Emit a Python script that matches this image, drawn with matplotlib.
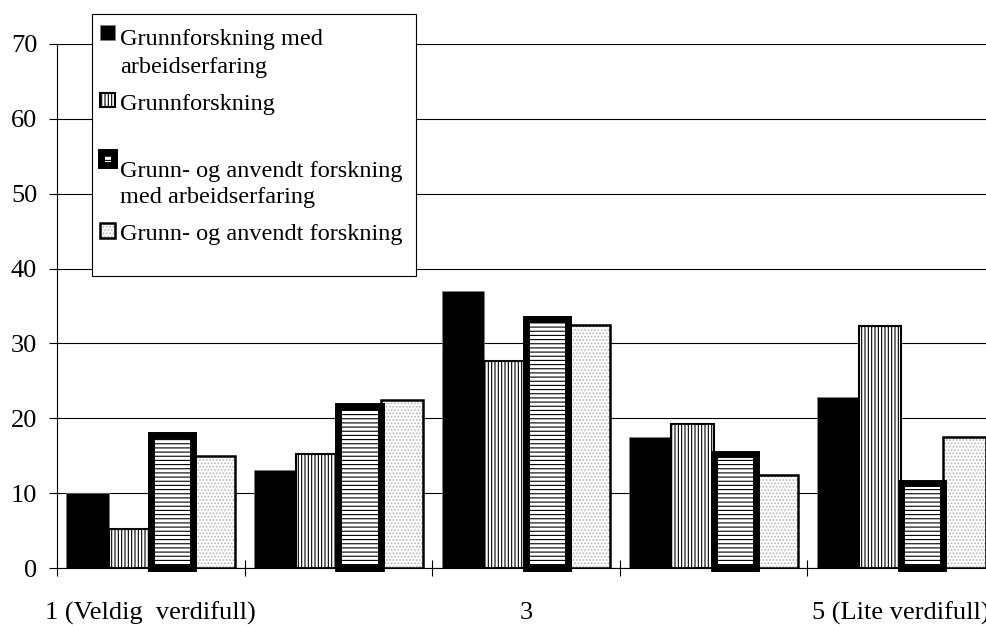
import matplotlib
matplotlib.use("Agg")
import matplotlib.pyplot as plt
import numpy as np
from matplotlib.patches import Rectangle

# answer scale 1 (very valuable) .. 5 (of little value), percent
categories = ["1 (Veldig  verdifull)", "", "3", "", "5 (Lite verdifull)"]
series_names = [
    "Grunnforskning med\narbeidserfaring",
    "Grunnforskning",
    "Grunn- og anvendt forskning\nmed arbeidserfaring",
    "Grunn- og anvendt forskning",
]
grunn_arb = [10.0, 13.1, 37.0, 17.5, 22.9]
grunn = [5.3, 15.2, 27.7, 19.2, 32.3]
anvendt_arb = [17.8, 21.6, 33.2, 15.3, 11.4]
anvendt = [15.0, 22.4, 32.4, 12.4, 17.5]
yticks = [0, 10, 20, 30, 40, 50, 60, 70]

# bar looks, shared with the hand-made legend keys
STYLES = [
    [dict(facecolor="black", edgecolor="#808080", linewidth=0.5)],
    [dict(facecolor="white", edgecolor="black", hatch="|||||", linewidth=1.5)],
    [dict(facecolor="white", edgecolor="black", hatch="----", linewidth=5)],
    [dict(facecolor="white", edgecolor="#b5b5b5", hatch=".....", linewidth=0),
     dict(fill=False, edgecolor="black", linewidth=1.8)],
]


def px(x, y):
    """pixel position (from top-left) -> figure fraction"""
    return x / 987, 1 - y / 626


def main():
    plt.rcParams["font.family"] = ["Liberation Serif", "DejaVu Serif"]
    plt.rcParams["hatch.linewidth"] = 0.8

    fig = plt.figure(figsize=(9.87, 6.26), dpi=100)
    ax = fig.add_axes([57 / 987, 1 - 568.3 / 626, (995 - 57) / 987, (568.3 - 43.7) / 626])

    x = np.arange(len(categories))
    w = 0.225
    values = [grunn_arb, grunn, anvendt_arb, anvendt]
    for i, (vals, layers) in enumerate(zip(values, STYLES)):
        for style in layers:
            bars = ax.bar(x + (i - 1.5) * w, vals, w, zorder=3 if i == 2 else 2, **style)
            if i == 2:
                for p in bars:
                    p.set_clip_on(False)

    ax.set_xlim(-0.5, len(categories) - 0.5)
    ax.set_ylim(0, 70)
    ax.set_yticks(yticks)
    ax.yaxis.grid(True, color="black", linewidth=0.8)
    ax.set_axisbelow(True)
    for s in ["top", "right"]:
        ax.spines[s].set_visible(False)
    ax.spines["left"].set_linewidth(0.8)
    ax.spines["bottom"].set_linewidth(0.8)
    ax.tick_params(axis="y", direction="out", length=5.8, width=0.8,
                   labelsize=19, pad=8.5)

    ax.set_xticks(x)
    ax.set_xticklabels(categories)
    ax.set_xticks(np.arange(len(categories) + 1) - 0.5, minor=True)
    ax.tick_params(axis="x", which="major", length=0, labelsize=19, pad=24)
    ax.tick_params(axis="x", which="minor", direction="inout", length=11.5,
                   width=0.8)

    # legend, laid out by hand like the original
    x0, y0 = px(92, 276)
    x1, y1 = px(416, 14)
    ax.add_artist(Rectangle((x0, y0), x1 - x0, y1 - y0, transform=fig.transFigure,
                            facecolor="white", edgecolor="black", linewidth=0.8,
                            clip_on=False, zorder=4))
    key_boxes = [(100, 25, 115, 40), (100, 93, 115, 107),
                 (101, 152, 114, 165), (100, 223, 115, 238)]
    baselines = [(45, 73), (110,), (177, 203), (240,)]
    for name, layers, box, lines in zip(series_names, STYLES, key_boxes, baselines):
        kx0, ky0 = px(box[0], box[3])
        kx1, ky1 = px(box[2], box[1])
        for style in layers:
            ax.add_artist(Rectangle((kx0, ky0), kx1 - kx0, ky1 - ky0,
                                    transform=fig.transFigure, clip_on=False,
                                    zorder=5, **style))
        for text, yb in zip(name.split("\n"), lines):
            fig.text(*px(120, yb), text, fontsize=17.5, va="baseline", ha="left")

    fig.savefig("out.png", dpi=100)


if __name__ == "__main__":
    main()
